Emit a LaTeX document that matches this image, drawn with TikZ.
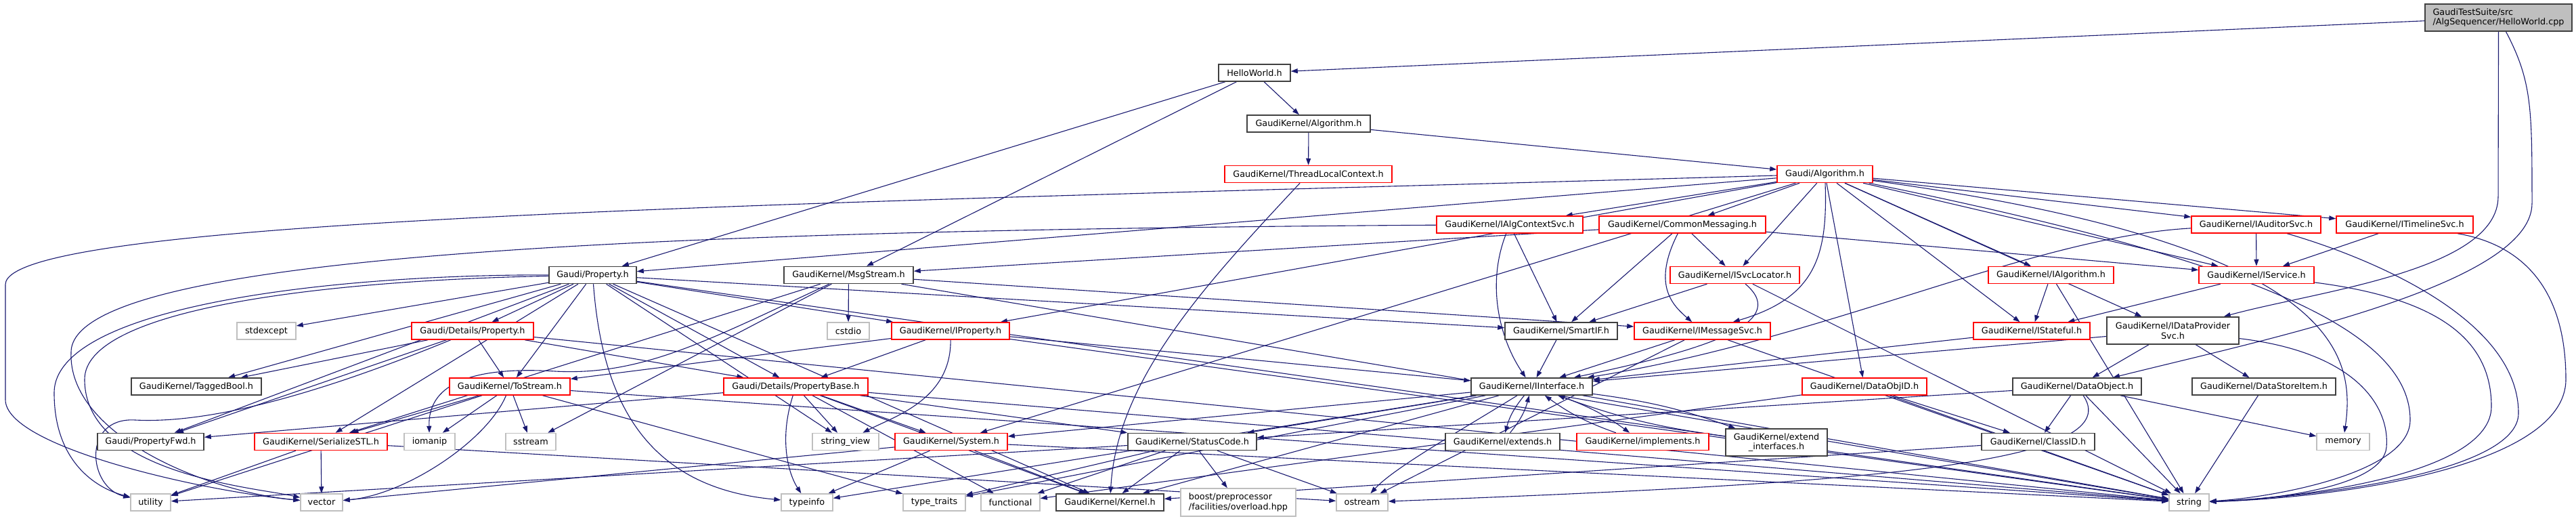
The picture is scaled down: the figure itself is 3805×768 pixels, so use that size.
\documentclass[tikz,border=0pt]{standalone}
\usepackage{fontspec}
\setmainfont{DejaVu Sans}
\usetikzlibrary{arrows.meta,backgrounds}
\definecolor{edgeblue}{HTML}{191970}
\definecolor{boxgray}{HTML}{404040}
\definecolor{cutred}{HTML}{FF0000}
\definecolor{sysgray}{HTML}{BFBFBF}
\definecolor{srcfill}{HTML}{BFBFBF}
\begin{document}
\begin{tikzpicture}[x=1pt,y=-1pt,
  box/.style={rectangle,fill=white,inner sep=0pt,minimum height=25,line width=1.5pt,
    font=\fontsize{12.8}{14.5}\selectfont},
  hdr/.style={box,draw=boxgray},
  cut/.style={box,draw=cutred},
  sys/.style={box,draw=sysgray},
  inc/.style={edgeblue,line width=1.1pt,-{Triangle[length=10pt,width=7pt]}}
  ]
\useasboundingbox (0,0) rectangle (3805,768);

% files, row by row
\node[hdr,fill=srcfill,minimum width=217,minimum height=40,align=left] (cpp) at (3690.5,26) {GaudiTestSuite/src\\/AlgSequencer/HelloWorld.cpp};
\node[hdr,minimum width=106] (hwh) at (1853,107.5) {HelloWorld.h};
\node[hdr,minimum width=182] (kalg) at (1933,182.5) {GaudiKernel/Algorithm.h};
\node[cut,minimum width=247] (tlc) at (1932.5,257) {GaudiKernel/ThreadLocalContext.h};
\node[cut,minimum width=141] (galg) at (2695.5,257) {Gaudi/Algorithm.h};
\node[cut,minimum width=216] (iacs) at (2230,331.5) {GaudiKernel/IAlgContextSvc.h};
\node[cut,minimum width=246] (cmsg) at (2485,331.5) {GaudiKernel/CommonMessaging.h};
\node[cut,minimum width=191] (iaud) at (3332.5,331.5) {GaudiKernel/IAuditorSvc.h};
\node[cut,minimum width=202] (itl) at (3552,331.5) {GaudiKernel/ITimelineSvc.h};
\node[hdr,minimum width=129] (prop) at (875.5,406) {Gaudi/Property.h};
\node[hdr,minimum width=191] (msg) at (1253.5,406) {GaudiKernel/MsgStream.h};
\node[cut,minimum width=191] (isl) at (2562.5,406) {GaudiKernel/ISvcLocator.h};
\node[cut,minimum width=185] (ialg) at (3029.5,406) {GaudiKernel/IAlgorithm.h};
\node[cut,minimum width=170] (isvc) at (3333,406) {GaudiKernel/IService.h};
\node[sys,minimum width=87] (stdexcept) at (393.5,488.5) {stdexcept};
\node[cut,minimum width=180] (dprop) at (698,488.5) {Gaudi/Details/Property.h};
\node[sys,minimum width=62] (cstdio) at (1253,488.5) {cstdio};
\node[cut,minimum width=174] (iprop) at (1404,488.5) {GaudiKernel/IProperty.h};
\node[hdr,minimum width=166] (smartif) at (2306,488.5) {GaudiKernel/SmartIF.h};
\node[cut,minimum width=201] (imsg) at (2514.5,488.5) {GaudiKernel/IMessageSvc.h};
\node[cut,minimum width=172] (istf) at (3001,488.5) {GaudiKernel/IStateful.h};
\node[hdr,minimum width=195,minimum height=40,align=center] (idp) at (3209.5,488) {GaudiKernel/IDataProvider\\Svc.h};
\node[hdr,minimum width=192] (tagged) at (290,570.5) {GaudiKernel/TaggedBool.h};
\node[cut,minimum width=178] (tostream) at (753,570.5) {GaudiKernel/ToStream.h};
\node[cut,minimum width=213] (pbase) at (1175.5,570.5) {Gaudi/Details/PropertyBase.h};
\node[hdr,minimum width=179] (iiface) at (2262.5,570.5) {GaudiKernel/IInterface.h};
\node[cut,minimum width=184] (dobjid) at (2754,570.5) {GaudiKernel/DataObjID.h};
\node[hdr,minimum width=190] (dobj) at (3068,570.5) {GaudiKernel/DataObject.h};
\node[hdr,minimum width=212] (dsi) at (3344,570.5) {GaudiKernel/DataStoreItem.h};
\node[hdr,minimum width=157] (pfwd) at (222.5,652) {Gaudi/PropertyFwd.h};
\node[cut,minimum width=196] (sstl) at (474,652) {GaudiKernel/SerializeSTL.h};
\node[sys,minimum width=75] (iomanip) at (634.5,652) {iomanip};
\node[sys,minimum width=74] (sstream) at (784,652) {sstream};
\node[sys,minimum width=98] (strview) at (1249,652) {string\_view};
\node[cut,minimum width=166] (system) at (1405,652) {GaudiKernel/System.h};
\node[hdr,minimum width=190] (status) at (1761,652) {GaudiKernel/StatusCode.h};
\node[hdr,minimum width=169] (extends) at (2219.5,652) {GaudiKernel/extends.h};
\node[cut,minimum width=195] (impl) at (2426.5,652) {GaudiKernel/implements.h};
\node[hdr,minimum width=150,minimum height=40,align=center] (extif) at (2624,653) {GaudiKernel/extend\\\_interfaces.h};
\node[hdr,minimum width=167] (classid) at (3010.5,652) {GaudiKernel/ClassID.h};
\node[sys,minimum width=78] (memory) at (3461,652) {memory};
\node[sys,minimum width=59] (utility) at (222.5,741.5) {utility};
\node[sys,minimum width=62] (vector) at (475,741.5) {vector};
\node[sys,minimum width=76] (typeinfo) at (1192,741.5) {typeinfo};
\node[sys,minimum width=92] (typetraits) at (1380,741.5) {type\_traits};
\node[sys,minimum width=87] (functional) at (1492.5,741.5) {functional};
\node[hdr,minimum width=159] (kernel) at (1639.5,741.5) {GaudiKernel/Kernel.h};
\node[sys,minimum width=170,minimum height=41,align=left] (boost) at (1829,741.5) {boost/preprocessor\\/facilities/overload.hpp};
\node[sys,minimum width=76] (ostream) at (2012,741.5) {ostream};
\node[sys,minimum width=59] (string) at (3233.5,741.5) {string};

\begin{scope}[on background layer]
% source file
\draw[inc] (cpp) -- (hwh);
\draw[inc] (cpp.south) -- (3690,290) .. controls (3690,400) and (3420,430) .. (idp);
\draw[inc] ([xshift=11]cpp.south) .. controls (3740,120) and (3740,160) .. (3740,300) .. controls (3740,420) and (3350,500) .. (dobj);
% HelloWorld.h and Algorithm.h
\draw[inc] (hwh) -- (kalg);
\draw[inc] (hwh) -- (prop);
\draw[inc] (hwh) -- (msg);
\draw[inc] (kalg) -- (tlc);
\draw[inc] (kalg) -- (galg);
\draw[inc] (tlc) .. controls (1780,420) and (1650,560) .. (kernel);
% Gaudi/Algorithm.h
\draw[inc] (galg) -- (prop);
\draw[inc] (galg) -- (iprop);
\draw[inc] (galg) -- (system);
\draw[inc] (galg) .. controls (1200,300) and (8,320) .. (8,420) -- (8,590) .. controls (8,660) and (300,725) .. (vector);
\draw[inc] (galg) -- (iacs);
\draw[inc] (galg) -- (cmsg);
\draw[inc] (galg) -- (isl);
\draw[inc] (galg) .. controls (2700,380) and (2680,440) .. (imsg);
\draw[inc] (galg) -- (dobjid);
\draw[inc] (galg) -- (istf);
\draw[inc] (galg) -- (ialg);
\draw[inc] (galg) -- (iaud);
\draw[inc] (galg) -- (itl);
\draw[inc] (galg) -- (isvc);
\draw[inc] (galg) -- (idp);
\draw[inc] (galg) .. controls (3450,360) and (3480,520) .. (memory);
\draw[inc] (galg) .. controls (3300,380) and (3560,480) .. (3560,620) .. controls (3560,700) and (3350,735) .. (string);
% services
\draw[inc] (iacs) .. controls (2195,420) and (2215,500) .. (iiface);
\draw[inc] (iacs) -- (smartif);
\draw[inc] (iacs) .. controls (900,340) and (105,380) .. (105,520) .. controls (100,640) and (300,725) .. (vector);
\draw[inc] (cmsg) -- (msg);
\draw[inc] (cmsg) .. controls (2440,420) and (2470,450) .. (imsg);
\draw[inc] (cmsg) -- (isl);
\draw[inc] (cmsg) -- (smartif);
\draw[inc] (cmsg) -- (isvc);
\draw[inc] (iaud) -- (isvc);
\draw[inc] (iaud) .. controls (3000,350) and (2700,500) .. (iiface);
\draw[inc] (iaud) .. controls (3500,380) and (3720,470) .. (3720,610) .. controls (3720,700) and (3400,735) .. (string);
\draw[inc] (itl) -- (isvc);
\draw[inc] (itl) .. controls (3720,360) and (3790,420) .. (3790,560) .. controls (3790,690) and (3450,735) .. (string);
% Gaudi/Property.h
\draw[inc] (prop) -- (dprop);
\draw[inc] (prop) -- (tostream);
\draw[inc] (prop) -- (pbase);
\draw[inc] (prop) -- (iprop);
\draw[inc] (prop) -- (smartif);
\draw[inc] (prop) -- (stdexcept);
\draw[inc] (prop) -- (tagged);
\draw[inc] (prop) -- (pfwd);
\draw[inc] (prop) -- (sstl);
\draw[inc] (prop) -- (strview);
\draw[inc] (prop) -- (kernel);
\draw[inc] (prop) -- (string);
\draw[inc] (prop) .. controls (890,600) and (960,720) .. (typeinfo);
\draw[inc] (prop) .. controls (500,405) and (80,450) .. (80,580) .. controls (80,680) and (140,720) .. (utility);
\draw[inc] (prop) .. controls (450,415) and (125,460) .. (125,560) .. controls (125,700) and (380,720) .. (vector);
% MsgStream.h
\draw[inc] (msg) -- (cstdio);
\draw[inc] (msg) -- (imsg);
\draw[inc] (msg) -- (sstl);
\draw[inc] (msg) -- (sstream);
\draw[inc] (msg) -- (string);
\draw[inc] (msg) .. controls (1050,500) and (950,555) .. (820,548) .. controls (690,540) and (632,570) .. (iomanip);
% ISvcLocator, IAlgorithm, IService
\draw[inc] (isl) .. controls (2650,480) and (2500,520) .. (iiface);
\draw[inc] (isl) -- (smartif);
\draw[inc] (isl) -- (string);
\draw[inc] (ialg) -- (istf);
\draw[inc] (ialg) -- (string);
\draw[inc] (isvc) -- (istf);
\draw[inc] (isvc) .. controls (3600,440) and (3680,500) .. (3680,600) .. controls (3680,700) and (3400,735) .. (string);
% Details/Property.h
\draw[inc] (dprop) -- (tagged);
\draw[inc] (dprop) -- (pfwd);
\draw[inc] (dprop) -- (tostream);
\draw[inc] (dprop) -- (pbase);
\draw[inc] (dprop) -- (string);
\draw[inc] (dprop) .. controls (450,590) and (300,625) .. (200,620) .. controls (120,615) and (130,720) .. (utility);
% IProperty.h
\draw[inc] (iprop) -- (pbase);
\draw[inc] (iprop) -- (tostream);
\draw[inc] (iprop) -- (iiface);
\draw[inc] (iprop) -- (string);
\draw[inc] (iprop) .. controls (1405,590) and (1320,615) .. (strview);
% interfaces
\draw[inc] (smartif) -- (iiface);
\draw[inc] (imsg) -- (iiface);
\draw[inc] (imsg) -- (string);
\draw[inc] (imsg) -- (ostream);
\draw[inc] (istf) -- (iiface);
\draw[inc] (idp) -- (iiface);
\draw[inc] (idp) -- (dobj);
\draw[inc] (idp) -- (dsi);
\draw[inc] (idp) .. controls (3480,520) and (3530,600) .. (3525,660) .. controls (3520,720) and (3350,738) .. (string);
% ToStream.h
\draw[inc] (tostream) -- (sstl);
\draw[inc] (tostream) -- (iomanip);
\draw[inc] (tostream) -- (sstream);
\draw[inc] (tostream) -- (string);
\draw[inc] (tostream) -- (typetraits);
\draw[inc] (tostream) -- (utility);
\draw[inc] (tostream) .. controls (720,650) and (600,730) .. (vector);
% PropertyBase.h
\draw[inc] (pbase) -- (pfwd);
\draw[inc] (pbase) -- (kernel);
\draw[inc] (pbase) -- (status);
\draw[inc] (pbase) -- (system);
\draw[inc] (pbase) -- (functional);
\draw[inc] (pbase) -- (string);
\draw[inc] (pbase) -- (strview);
\draw[inc] (pbase) .. controls (1150,650) and (1165,700) .. (typeinfo);
% IInterface.h
\draw[inc] (iiface) to[bend right=12] (extends);
\draw[inc] (extends) to[bend right=12] (iiface);
\draw[inc] (iiface) to[bend left=8] (impl);
\draw[inc] (impl) to[bend left=8] (iiface);
\draw[inc] (iiface) to[bend left=6] (extif);
\draw[inc] (extif) to[bend left=6] (iiface);
\draw[inc] (iiface) -- (status);
\draw[inc] (iiface) -- (system);
\draw[inc] (iiface) -- (kernel);
\draw[inc] (iiface) -- (typeinfo);
\draw[inc] (iiface) -- (typetraits);
\draw[inc] (iiface) -- (string);
\draw[inc] (iiface) .. controls (2150,640) and (2060,690) .. (ostream);
% data objects
\draw[inc] (dobjid) -- (classid);
\draw[inc] (dobjid) -- (functional);
\draw[inc] (dobjid) -- (string);
\draw[inc] (dobj) -- (classid);
\draw[inc] (dobj) -- (memory);
\draw[inc] (dobj) -- (status);
\draw[inc] (dobj) -- (string);
\draw[inc] (dobj) .. controls (3150,690) and (2700,715) .. (ostream);
\draw[inc] (dsi) -- (string);
\draw[inc] (classid) -- (kernel);
% SerializeSTL, StatusCode, System
\draw[inc] (sstl) -- (utility);
\draw[inc] (sstl) -- (vector);
\draw[inc] (sstl) -- (ostream);
\draw[inc] (status) -- (kernel);
\draw[inc] (status) -- (boost);
\draw[inc] (status) -- (ostream);
\draw[inc] (status) -- (functional);
\draw[inc] (status) -- (typetraits);
\draw[inc] (status) -- (utility);
\draw[inc] (system) -- (kernel);
\draw[inc] (system) -- (string);
\draw[inc] (system) -- (typeinfo);
\draw[inc] (system) -- (vector);
\end{scope}
\end{tikzpicture}
\end{document}
